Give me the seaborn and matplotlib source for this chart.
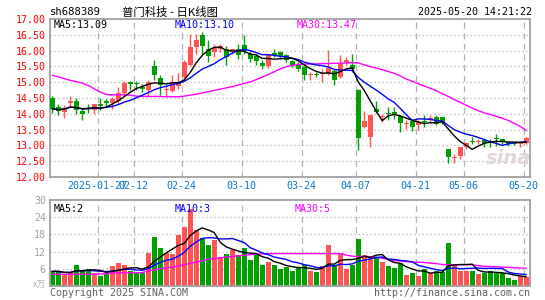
import numpy as np
import pandas as pd
import seaborn as sns
import matplotlib
matplotlib.use("Agg")
import matplotlib.pyplot as plt
from matplotlib.transforms import blended_transform_factory

# header texts
code = "sh688389"
title = "普门科技 - 日K线图"
stamp = "2025-05-20 14:21:22"
price_ma_text = ["MA5:13.09", "MA10:13.10", "MA30:13.47"]
vol_ma_text = ["MA5:2", "MA10:3", "MA30:5"]

# trading days (exchange holidays removed)
holidays = ["2025-01-28", "2025-01-29", "2025-01-30", "2025-01-31", "2025-02-03",
            "2025-02-04", "2025-04-04", "2025-05-01", "2025-05-02", "2025-05-05"]
tick_dates = ["2025-01-27", "2025-02-12", "2025-02-24", "2025-03-10", "2025-03-24",
              "2025-04-07", "2025-04-21", "2025-05-06", "2025-05-20"]
tick_labels = ["2025-01-27", "02-12", "02-24", "03-10", "03-24",
               "04-07", "04-21", "05-06", "05-20"]

open_ = [14.50, 14.23, 14.05, 14.34, 14.42, 14.08, 14.19, 14.13, 14.30, 14.39,
         14.33, 14.42, 14.67, 15.02, 14.97, 14.85, 14.74, 15.51, 15.13, 14.75,
         14.72, 14.88, 15.16, 15.53, 16.11, 16.48, 16.04, 15.95, 16.04, 16.06,
         15.95, 16.04, 16.19, 15.90, 15.82, 15.62, 15.51, 15.93, 15.97, 15.85,
         15.67, 15.56, 15.48, 15.24, 15.26, 15.25, 15.25, 15.34, 15.16, 15.64,
         15.53, 14.76, 13.58, 13.26, 14.16, 13.90, 14.03, 14.05, 13.92, 13.68,
         13.77, 13.63, 13.75, 13.82, 13.89, 13.89, 12.89, 12.60, 12.68, 12.94,
         13.14, 13.12, 13.18, 13.13, 13.20, 13.20, 13.07, 13.07, 13.06, 13.07]
high = [14.56, 14.32, 14.27, 14.55, 14.50, 14.19, 14.32, 14.32, 14.50, 14.48,
        14.53, 14.85, 15.03, 15.03, 15.03, 14.93, 15.08, 15.69, 15.22, 14.88,
        15.22, 15.29, 15.69, 16.53, 16.53, 16.59, 16.32, 16.22, 16.20, 16.16,
        16.06, 16.22, 16.48, 16.00, 15.90, 15.69, 15.85, 16.06, 16.00, 15.90,
        15.71, 15.64, 15.50, 15.32, 15.32, 15.43, 16.03, 15.43, 15.85, 15.80,
        15.88, 14.78, 14.09, 13.95, 14.42, 14.00, 14.23, 14.23, 13.95, 13.79,
        13.84, 13.79, 13.95, 13.95, 13.95, 13.91, 12.89, 12.74, 12.94, 13.10,
        13.26, 13.20, 13.20, 13.20, 13.36, 13.20, 13.12, 13.10, 13.12, 13.26]
low = [14.03, 13.95, 13.86, 14.23, 14.00, 13.81, 14.02, 14.00, 14.11, 14.23,
       14.16, 14.32, 14.58, 14.74, 14.74, 14.69, 14.53, 15.06, 14.58, 14.53,
       14.69, 14.80, 15.10, 15.50, 15.90, 15.90, 15.64, 15.80, 15.95, 15.53,
       15.90, 15.74, 15.90, 15.64, 15.53, 15.43, 15.45, 15.80, 15.74, 15.64,
       15.48, 15.35, 15.06, 15.08, 15.18, 15.00, 15.22, 14.90, 15.14, 15.53,
       15.32, 12.86, 13.56, 12.95, 14.02, 13.74, 13.79, 13.84, 13.42, 13.53,
       13.45, 13.49, 13.58, 13.74, 13.63, 13.69, 12.44, 12.44, 12.58, 12.89,
       13.04, 13.04, 12.94, 12.94, 12.99, 13.04, 12.99, 13.00, 12.94, 13.06]
close = [14.16, 14.10, 14.19, 14.40, 14.13, 13.98, 14.16, 14.32, 14.26, 14.34,
         14.46, 14.67, 14.98, 14.95, 14.93, 14.80, 15.00, 15.22, 14.90, 14.80,
         15.00, 15.00, 15.64, 16.11, 16.32, 16.16, 15.83, 16.09, 16.16, 15.80,
         16.06, 15.85, 16.00, 15.74, 15.66, 15.51, 15.85, 15.87, 15.83, 15.69,
         15.56, 15.43, 15.22, 15.26, 15.24, 15.28, 15.46, 15.08, 15.60, 15.69,
         15.43, 13.23, 13.76, 13.95, 14.05, 13.92, 14.00, 13.98, 13.71, 13.70,
         13.58, 13.74, 13.73, 13.84, 13.68, 13.74, 12.63, 12.62, 12.94, 13.07,
         13.12, 13.14, 13.07, 13.12, 13.19, 13.10, 13.06, 13.05, 13.07, 13.23]
ma30 = [15.22, 15.17, 15.11, 15.06, 15.02, 14.97, 14.90, 14.79, 14.69, 14.61,
        14.60, 14.60, 14.60, 14.59, 14.56, 14.55, 14.55, 14.55, 14.55, 14.54,
        14.54, 14.54, 14.56, 14.59, 14.62, 14.66, 14.70, 14.74, 14.78, 14.82,
        14.86, 14.91, 14.96, 15.01, 15.08, 15.16, 15.24, 15.33, 15.42, 15.49,
        15.53, 15.56, 15.57, 15.58, 15.58, 15.59, 15.59, 15.60, 15.60, 15.61,
        15.62, 15.61, 15.55, 15.49, 15.45, 15.40, 15.34, 15.28, 15.20, 15.10,
        15.03, 14.95, 14.88, 14.81, 14.73, 14.64, 14.55, 14.45, 14.36, 14.27,
        14.18, 14.10, 14.03, 13.98, 13.92, 13.86, 13.79, 13.70, 13.60, 13.47]
volume = [5.1, 5.1, 4.1, 4.6, 7.5, 5.4, 6.1, 4.6, 3.6, 4.2,
          6.9, 7.9, 7.2, 5.4, 4.5, 4.5, 11.4, 17.0, 13.2, 11.6,
          11.1, 17.8, 20.6, 26.9, 19.5, 16.6, 14.2, 16.0, 10.1, 11.3,
          12.7, 10.9, 13.4, 8.9, 10.7, 7.2, 8.3, 7.5, 6.0, 6.8,
          5.1, 6.8, 7.2, 5.1, 4.8, 6.9, 14.2, 7.2, 11.6, 6.0,
          7.2, 16.3, 10.7, 9.5, 10.1, 8.3, 6.9, 6.2, 8.1, 4.0,
          4.5, 3.6, 5.8, 4.6, 5.1, 4.8, 14.9, 7.4, 5.3, 5.1,
          5.4, 4.1, 4.6, 5.1, 4.6, 4.6, 2.7, 2.2, 3.4, 3.1]
vol_ma30 = [4.1, 4.1, 4.1, 4.1, 4.1, 4.1, 4.1, 4.1, 4.2, 4.3,
            4.5, 4.6, 4.6, 4.6, 4.6, 4.7, 5.2, 5.6, 6.0, 6.3,
            6.6, 7.0, 7.4, 7.9, 8.3, 8.8, 9.3, 9.6, 9.8, 10.1,
            10.3, 10.5, 10.7, 10.9, 11.1, 11.2, 11.3, 11.3, 11.3, 11.3,
            11.3, 11.3, 11.3, 11.3, 11.3, 11.3, 11.3, 11.3, 11.3, 10.8,
            10.4, 10.3, 10.3, 10.2, 10.0, 9.7, 9.2, 8.9, 8.7, 8.5,
            8.3, 8.3, 8.2, 8.0, 7.8, 7.5, 7.4, 7.4, 7.4, 7.4,
            7.4, 7.1, 6.9, 6.8, 6.7, 6.6, 6.5, 6.4, 6.3, 6.2]

UP = "#ff5454"
DOWN = "#00a000"
GRID = "#b4b4b4"
FRAME = "#a0a0a0"

days = pd.bdate_range("2025-01-15", "2025-05-20")
days = days[~days.isin(pd.to_datetime(holidays))]
df = pd.DataFrame({"date": days, "open": open_, "high": high, "low": low,
                   "close": close, "vol": volume, "ma30": ma30, "vma30": vol_ma30})
df["i"] = np.arange(len(df))
df["up"] = df["close"] >= df["open"]
df["ma5"] = df["close"].rolling(5, min_periods=1).mean()
df["ma10"] = df["close"].rolling(10, min_periods=1).mean()
df["vma5"] = df["vol"].rolling(5, min_periods=1).mean()
df["vma10"] = df["vol"].rolling(10, min_periods=1).mean()
tick_pos = [int(np.where(df["date"] == pd.Timestamp(d))[0][0]) for d in tick_dates]

sns.set_style("white")
plt.rcParams['font.family'] = ['DejaVu Sans Mono', 'Noto Sans CJK SC']
plt.rcParams['font.size'] = 7.2

fig = plt.figure(figsize=(5.45, 3.0), dpi=100)
W, H = 545.0, 300.0
ax = fig.add_axes([50 / W, 123 / H, 480 / W, 158 / H])
axv = fig.add_axes([50 / W, 14 / H, 480 / W, 86 / H])

xmin, xmax = -0.37, 79.63
for a in (ax, axv):
    a.set_xlim(xmin, xmax)
    for s in a.spines.values():
        s.set_color(FRAME)
        s.set_linewidth(1.3)
    for p in tick_pos:
        a.axvline(p - 0.42, color=GRID, lw=0.9, ls=(0, (5, 3.5)), zorder=0)

# price panel
ax.set_ylim(12, 17)
for v in np.arange(12.5, 16.51, 0.5):
    ax.axhline(v, color=GRID, lw=0.9, ls=(0, (1, 2.2)), zorder=0)
cols = np.where(df["up"], UP, DOWN)
ax.vlines(df["i"], df["low"], df["high"], colors=cols, lw=1, zorder=2)
body = (df["close"] - df["open"]).abs().clip(lower=0.035)
ax.bar(df["i"], body, bottom=df[["open", "close"]].min(axis=1), width=0.82,
       color=cols, linewidth=0, zorder=3)
sns.lineplot(x=df["i"], y=df["ma30"], color="#ff00ff", lw=1, ax=ax, zorder=4)
sns.lineplot(x=df["i"], y=df["ma10"], color="#0000ff", lw=1, ax=ax, zorder=4)
sns.lineplot(x=df["i"], y=df["ma5"], color="black", lw=1, ax=ax, zorder=5)
ax.set_yticks(np.arange(12, 17.01, 0.5))
ax.set_yticklabels([f"{v:.2f}" for v in np.arange(12, 17.01, 0.5)])
ax.tick_params(axis="y", length=0, pad=3, labelcolor="red", labelsize=7.2)
ax.set_xticks([])
ax.set_xlabel("")
ax.set_ylabel("")

tr = blended_transform_factory(ax.transData, ax.transAxes)
for p, lab in zip(tick_pos, tick_labels):
    ax.text(p - 0.42, -0.058, lab, transform=tr, ha="center", va="center",
            color="#0a78c8", fontsize=7.2)

ax.text(0.008, 0.965, price_ma_text[0], transform=ax.transAxes, color="black", va="center")
ax.text(0.26, 0.965, price_ma_text[1], transform=ax.transAxes, color="#0000ff", va="center")
ax.text(0.513, 0.965, price_ma_text[2], transform=ax.transAxes, color="#ff00ff", va="center")
ax.text(0.955, 0.12, "sina", transform=ax.transAxes, ha="center", va="center",
        color="#e2d6d6", fontsize=14, fontweight="bold", style="italic",
        family="DejaVu Sans", zorder=1)

# volume panel
sns.barplot(x=df["i"], y=df["vol"], hue=df["up"], palette={True: UP, False: DOWN},
            native_scale=True, width=0.82, errorbar=None, legend=False,
            saturation=1, linewidth=0, ax=axv, zorder=2)
axv.set_xlim(xmin, xmax)
axv.set_ylim(0, 30)
for v in [6, 12, 18, 24]:
    axv.axhline(v, color=GRID, lw=0.9, ls=(0, (1, 2.2)), zorder=0)
sns.lineplot(x=df["i"], y=df["vma30"], color="#ff00ff", lw=1, ax=axv, zorder=4)
sns.lineplot(x=df["i"], y=df["vma10"], color="#0000ff", lw=1, ax=axv, zorder=4)
sns.lineplot(x=df["i"], y=df["vma5"], color="black", lw=1, ax=axv, zorder=5)
axv.set_yticks([6, 12, 18, 24, 30])
axv.set_yticklabels(["6", "12", "18", "24", "30"])
axv.tick_params(axis="y", length=0, pad=3, labelcolor="#a0a0a0", labelsize=7.2)
axv.set_xticks([])
axv.set_xlabel("")
axv.set_ylabel("")
axv.text(0.008, 0.9, vol_ma_text[0], transform=axv.transAxes, color="black", va="center")
axv.text(0.26, 0.9, vol_ma_text[1], transform=axv.transAxes, color="#0000ff", va="center")
axv.text(0.51, 0.9, vol_ma_text[2], transform=axv.transAxes, color="#ff00ff", va="center")

# header and footer
fig.text(50 / W, 1 - 12 / H, code, va="center", ha="left", color="black", fontsize=7.6)
fig.text(122 / W, 1 - 12 / H, title, va="center", ha="left", color="black", fontsize=8.2,
         family=["Noto Sans CJK SC", "DejaVu Sans"])
fig.text(532 / W, 1 - 12 / H, stamp, va="center", ha="right", color="black", fontsize=7.2)
fig.text(46 / W, 1 - 285 / H, "x万", va="center", ha="right", color="#b0b0b0", fontsize=6.5,
         family=["Noto Sans CJK SC", "DejaVu Sans"])
fig.text(50 / W, 1 - 293 / H, "Copyright 2025 SINA.COM", va="center", ha="left",
         color="#606060", fontsize=7.2)
fig.text(530 / W, 1 - 293 / H, "http://finance.sina.com.cn", va="center", ha="right",
         color="#606060", fontsize=7.2)

fig.savefig("out.png", dpi=100, facecolor="white")
